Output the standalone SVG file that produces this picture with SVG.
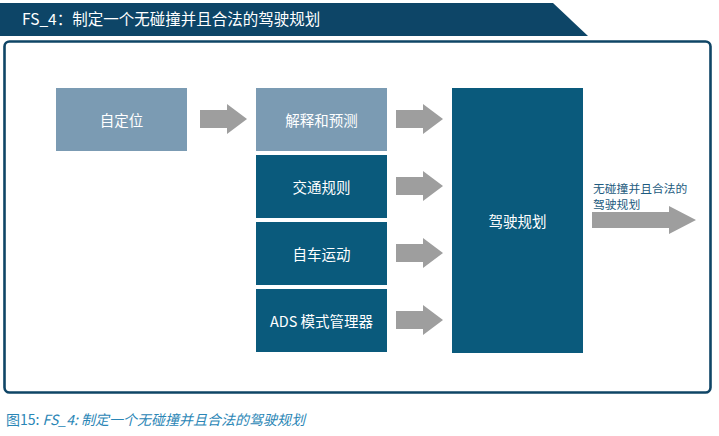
<svg xmlns="http://www.w3.org/2000/svg" width="719" height="436" viewBox="0 0 719 436">
  <style>
    .cjk { font-family: "Noto Sans CJK SC", "Noto Sans", sans-serif; }
    .light { fill: #7b9bb3; }
    .dark { fill: #0a5a7c; }
    .lbl { fill: #ffffff; font-size: 14.5px; text-anchor: middle; dominant-baseline: central; }
    .arrow { fill: #9e9e9e; }
  </style>
  <defs>
    <path id="arr" d="M0,-9 H27 V-15 L47,0 L27,15 V9 H0 Z"/>
  </defs>
  <rect width="719" height="436" fill="#ffffff"/>
  <g id="header">
    <polygon points="0,3 553,3 588,36 0,36" fill="#0d4567"/>
    <text x="22" y="25" class="cjk" fill="#ffffff" font-size="15.5">FS_4：制定一个无碰撞并且合法的驾驶规划</text>
  </g>
  <g id="frame">
    <rect x="4.5" y="41.5" width="706" height="351" rx="5" fill="none" stroke="#0f4566" stroke-width="2.6"/>
  </g>
  <g id="node-self-localization">
    <rect x="56" y="88" width="131" height="63" class="light"/>
    <text x="121.5" y="119.5" class="cjk lbl">自定位</text>
  </g>
  <g id="node-interpret-predict">
    <rect x="256" y="88" width="131" height="63" class="light"/>
    <text x="321.5" y="119.5" class="cjk lbl">解释和预测</text>
  </g>
  <g id="node-traffic-rules">
    <rect x="256" y="155" width="131" height="63" class="dark"/>
    <text x="321.5" y="186.5" class="cjk lbl">交通规则</text>
  </g>
  <g id="node-ego-motion">
    <rect x="256" y="222" width="131" height="63" class="dark"/>
    <text x="321.5" y="253.5" class="cjk lbl">自车运动</text>
  </g>
  <g id="node-ads-mode-manager">
    <rect x="256" y="289" width="131" height="63" class="dark"/>
    <text x="321.5" y="320.5" class="cjk lbl">ADS 模式管理器</text>
  </g>
  <g id="node-driving-plan">
    <rect x="452" y="88" width="131" height="265" class="dark"/>
    <text x="517.5" y="220" class="cjk lbl">驾驶规划</text>
  </g>
  <g id="connectors">
    <use href="#arr" x="200" y="119" class="arrow"/>
    <use href="#arr" x="396" y="119" class="arrow"/>
    <use href="#arr" x="396" y="186" class="arrow"/>
    <use href="#arr" x="396" y="253" class="arrow"/>
    <use href="#arr" x="396" y="320" class="arrow"/>
    <polygon points="592,212 669,212 669,206 696,220 669,234 669,228 592,228" class="arrow"/>
    <text x="593" y="193" class="cjk" fill="#1d5b80" font-size="11.8">无碰撞并且合法的</text>
    <text x="593" y="209" class="cjk" fill="#1d5b80" font-size="11.8">驾驶规划</text>
  </g>
  <g id="caption">
    <text x="6" y="425" class="cjk" fill="#2a86b6" font-size="14">图15: <tspan font-style="italic">FS_4: 制定一个无碰撞并且合法的驾驶规划</tspan></text>
  </g>
</svg>
